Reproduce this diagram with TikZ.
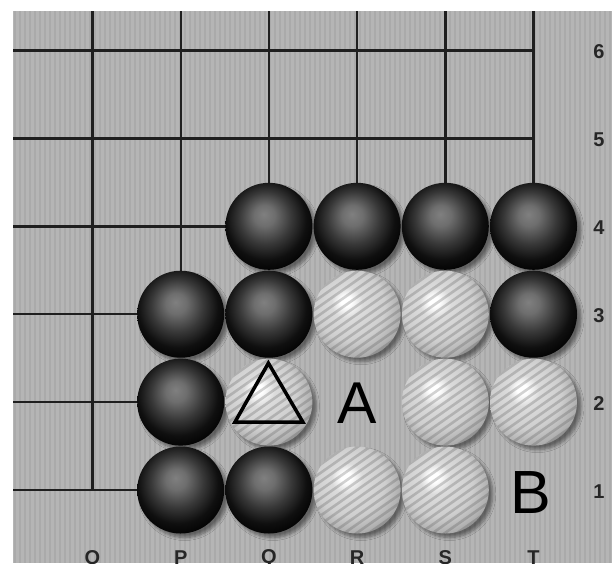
\documentclass[tikz,border=0pt]{standalone}
\usepackage{fontspec}
\setmainfont{Liberation Sans}
\usetikzlibrary{shadows.blur,calc}
\definecolor{boardbg}{gray}{0.71}
\definecolor{boardstripe}{gray}{0.665}
\definecolor{gridcol}{gray}{0.12}
\pgfdeclareradialshading{blackball}{\pgfpoint{-3bp}{7bp}}{color(0bp)=(black!50); color(6bp)=(black!57); color(15bp)=(black!78); color(23bp)=(black!94); color(30bp)=(black); color(50bp)=(black)}
\pgfdeclareradialshading{whiteball}{\pgfpoint{-7bp}{8bp}}{color(0bp)=(white); color(3bp)=(white); color(9bp)=(black!14); color(20bp)=(black!19); color(27bp)=(black!30); color(33bp)=(black!42); color(50bp)=(black!42)}
\tikzset{
  stone/.style={circle, minimum size=87pt, inner sep=0pt,
    blur shadow={shadow xshift=4pt, shadow yshift=-4pt, shadow blur steps=6, shadow opacity=45, shadow blur radius=3pt}},
  bstone/.style={stone, shade, shading=blackball},
  wstone/.style={stone, shade, shading=whiteball, path picture={
      \foreach \k in {-9,...,9}
        \draw[gray!60!black, opacity=0.25, line width=2.6pt]
          ($(path picture bounding box.center)+({\k*7*sin(35)-60*cos(35)},{\k*7*cos(35)+60*sin(35)})$) --
          ($(path picture bounding box.center)+({\k*7*sin(35)+60*cos(35)},{\k*7*cos(35)-60*sin(35)})$);}},
  gridline/.style={gridcol, line width=2.4pt},
  boardlab/.style={font=\fontsize{20}{20}\selectfont\bfseries, inner sep=0pt, text=black!85},
  bigletter/.style={inner sep=0pt, anchor=base},
  markline/.style={black, line width=3.5pt, line join=miter},
}
\begin{document}
\begin{tikzpicture}[x=1pt,y=-1pt]
\useasboundingbox (0,0) rectangle (612,563);
\fill[white] (0,0) rectangle (612,563);
\fill[boardbg] (13,11) rectangle (612,563);
\foreach \x in {14,19,...,610} \fill[boardstripe] (\x,11) rectangle (\x+2,563);
% grid
\draw[gridline] (13,50.5) -- (533.5,50.5);
\draw[gridline] (13,138.4) -- (533.5,138.4);
\draw[gridline] (13,226.3) -- (268.9,226.3);
\foreach \y in {314.2,402.1,490} \draw[gridline] (13,\y) -- (180.7,\y);
\draw[gridline] (92.5,11) -- (92.5,491.2);
\draw[gridline] (180.7,11) -- (180.7,314.2);
\foreach \x in {268.9,357.1,445.3,533.5} \draw[gridline] (\x,11) -- (\x,226.3);
% stones row 4
\node[bstone] (Q4) at (268.9,226.3) {};
\node[bstone] (R4) at (357.1,226.3) {};
\node[bstone] (S4) at (445.3,226.3) {};
\node[bstone] (T4) at (533.5,226.3) {};
% row 3
\node[bstone] (P3) at (180.7,314.2) {};
\node[bstone] (Q3) at (268.9,314.2) {};
\node[wstone] (R3) at (357.1,314.2) {};
\node[wstone] (S3) at (445.3,314.2) {};
\node[bstone] (T3) at (533.5,314.2) {};
% row 2
\node[bstone] (P2) at (180.7,402.1) {};
\node[wstone] (Q2) at (268.9,402.1) {};
\node[wstone] (S2) at (445.3,402.1) {};
\node[wstone] (T2) at (533.5,402.1) {};
% row 1
\node[bstone] (P1) at (180.7,490) {};
\node[bstone] (Q1) at (268.9,490) {};
\node[wstone] (R1) at (357.1,490) {};
\node[wstone] (S1) at (445.3,490) {};
% triangle mark
\draw[markline] ($(Q2)+(-34,20)$) -- ($(Q2)+(-0.5,-39)$) -- ($(Q2)+(34,20)$) -- cycle;
% letters
\node[bigletter, font=\fontsize{59}{59}\selectfont] (A) at (357,423) {A};
\node[bigletter, font=\fontsize{61}{61}\selectfont] (B) at (531,513) {B};
% row labels
\node[boardlab] (r6) at (599,52) {6};
\node[boardlab] (r5) at (599,139.5) {5};
\node[boardlab] (r4) at (599,227.5) {4};
\node[boardlab] (r3) at (599,316) {3};
\node[boardlab] (r2) at (599,404) {2};
\node[boardlab] (r1) at (599,492) {1};
% column labels
\node[boardlab] (cO) at (92.5,558) {O};
\node[boardlab] (cP) at (180.7,558) {P};
\node[boardlab] (cQ) at (268.9,558) {Q};
\node[boardlab] (cR) at (357.1,558) {R};
\node[boardlab] (cS) at (445.3,558) {S};
\node[boardlab] (cT) at (533.5,558) {T};
\end{tikzpicture}
\end{document}
